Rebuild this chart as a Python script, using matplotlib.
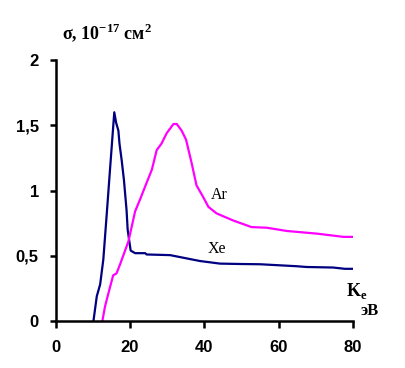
import matplotlib.pyplot as plt

# Xe cross-section (navy)
xe_e = [10.2, 11.1, 12.0, 12.85, 13.8, 14.65, 15.8, 16.3, 16.9, 17.2, 17.8, 18.4,
        19.1, 19.4, 20.2, 21.4, 24.1, 24.5, 30.8, 38.8, 44.2, 49.6, 55.0, 64.8,
        67.5, 74.6, 77.8, 80.0]
xe_s = [0.0, 0.19, 0.28, 0.47, 0.83, 1.16, 1.60, 1.52, 1.46, 1.36, 1.23, 1.08,
        0.85, 0.70, 0.54, 0.52, 0.52, 0.51, 0.505, 0.46, 0.44, 0.437, 0.435, 0.42,
        0.414, 0.41, 0.40, 0.40]

# Ar cross-section (magenta)
ar_e = [12.6, 13.3, 14.2, 15.5, 16.4, 17.3, 19.6, 21.4, 22.7, 24.5, 25.9, 27.2,
        28.5, 29.9, 31.7, 32.6, 33.9, 35.1, 36.6, 37.9, 39.7, 41.1, 43.3, 47.8,
        52.7, 56.8, 62.2, 70.2, 77.4, 80.0]
ar_s = [0.0, 0.11, 0.21, 0.35, 0.365, 0.43, 0.61, 0.84, 0.93, 1.06, 1.16, 1.31,
        1.36, 1.44, 1.51, 1.51, 1.46, 1.39, 1.21, 1.04, 0.95, 0.875, 0.825, 0.77,
        0.72, 0.715, 0.69, 0.67, 0.645, 0.645]

x_ticks = [0, 20, 40, 60, 80]
y_ticks = [0, 0.5, 1, 1.5, 2]
y_labels = ['0', '0,5', '1', '1,5', '2']

serif = 'Liberation Serif'
plt.rcParams['mathtext.fontset'] = 'custom'
plt.rcParams['mathtext.rm'] = serif
plt.rcParams['mathtext.bf'] = serif + ':bold'

fig = plt.figure(figsize=(4.06, 3.68), dpi=100, facecolor='white')
ax = fig.add_axes([0.1367, 0.1277, 0.733, 0.709])

ax.plot(xe_e, xe_s, color='#000080', lw=1.6)
ax.plot(ar_e, ar_s, color='#ff00ff', lw=1.6)

ax.set_xlim(0, 80)
ax.set_ylim(0, 2)
for s in ['top', 'right']:
    ax.spines[s].set_visible(False)
for s in ['left', 'bottom']:
    ax.spines[s].set_linewidth(1.8)

tick_font = dict(family='Liberation Sans', weight='bold', size=12)
ax.set_xticks(x_ticks)
ax.set_xticklabels([str(t) for t in x_ticks], fontdict=tick_font)
ax.set_yticks(y_ticks)
ax.set_yticklabels(y_labels, fontdict=tick_font)
ax.tick_params(axis='x', length=5, width=1.8, pad=9)
ax.tick_params(axis='y', length=4, width=1.8, pad=8)

fig.text(0.152, 0.91, r'σ, 10$^{\mathbf{-17}}$ см$^{\mathbf{2}}$', family=serif,
         weight='bold', size=13, va='center')
ax.text(44.0, 0.965, 'Ar', family=serif, size=11.5, ha='center', va='center')
ax.text(43.5, 0.55, 'Xe', family=serif, size=11.5, ha='center', va='center')
ax.text(81.0, 0.23, r'K$_\mathbf{e}$', family=serif, weight='bold', size=13,
        ha='center', va='center', clip_on=False)
ax.text(84.5, 0.08, 'эВ', family=serif, weight='bold', size=12,
        ha='center', va='center', clip_on=False)

fig.savefig('out.png', dpi=100, facecolor='white')
